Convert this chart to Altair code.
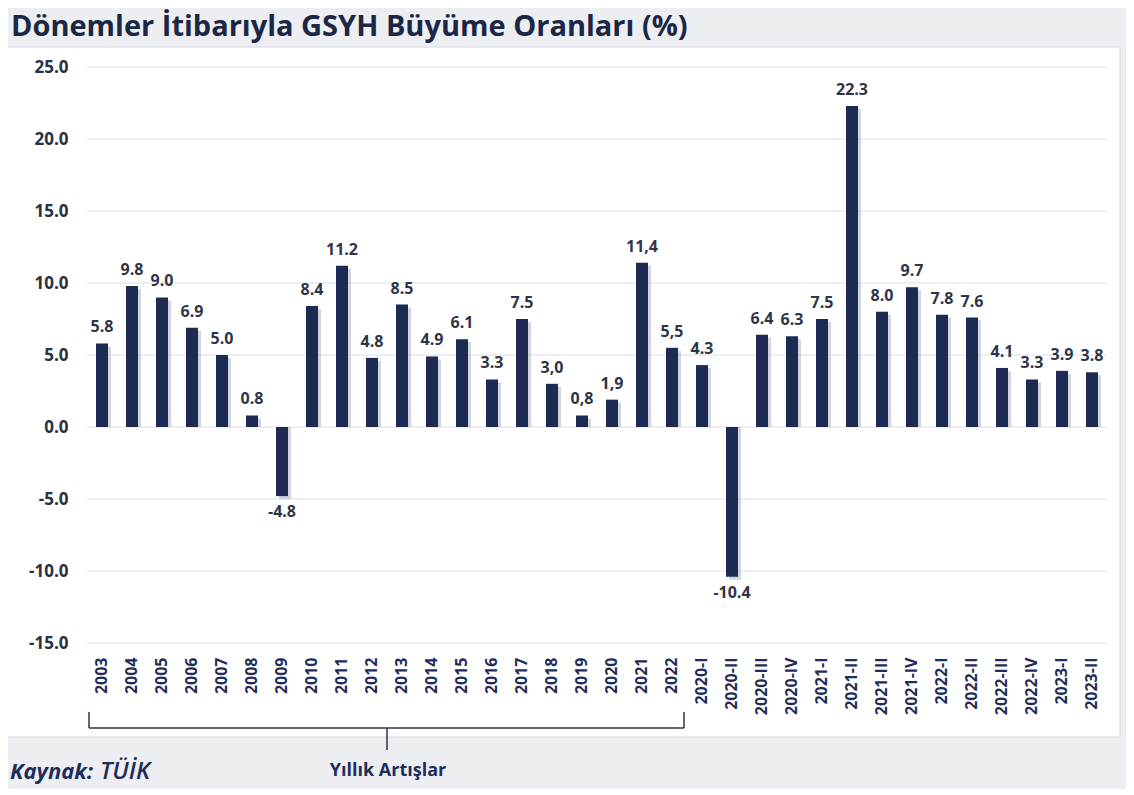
import altair as alt
import pandas as pd

categories = ["2003", "2004", "2005", "2006", "2007", "2008", "2009", "2010", "2011", "2012",
              "2013", "2014", "2015", "2016", "2017", "2018", "2019", "2020", "2021", "2022",
              "2020-I", "2020-II", "2020-III", "2020-IV", "2021-I", "2021-II", "2021-III", "2021-IV",
              "2022-I", "2022-II", "2022-III", "2022-IV", "2023-I", "2023-II"]
values = [5.8, 9.8, 9.0, 6.9, 5.0, 0.8, -4.8, 8.4, 11.2, 4.8,
          8.5, 4.9, 6.1, 3.3, 7.5, 3.0, 0.8, 1.9, 11.4, 5.5,
          4.3, -10.4, 6.4, 6.3, 7.5, 22.3, 8.0, 9.7,
          7.8, 7.6, 4.1, 3.3, 3.9, 3.8]
labels = ["5.8", "9.8", "9.0", "6.9", "5.0", "0.8", "-4.8", "8.4", "11.2", "4.8",
          "8.5", "4.9", "6.1", "3.3", "7.5", "3,0", "0,8", "1,9", "11,4", "5,5",
          "4.3", "-10.4", "6.4", "6.3", "7.5", "22.3", "8.0", "9.7",
          "7.8", "7.6", "4.1", "3.3", "3.9", "3.8"]
y_ticks = [-15, -10, -5, 0, 5, 10, 15, 20, 25]

title_text = "Dönemler İtibarıyla GSYH Büyüme Oranları (%)"
bracket_text = "Yıllık Artışlar"
source_bold = "Kaynak:"
source_text = "TÜİK"

df = pd.DataFrame({"cat": categories, "val": values, "lab": labels})
grid_df = pd.DataFrame({"t": y_ticks})
one = pd.DataFrame({"a": [0]})

FONT = "Open Sans"
NAVY = "#1d2b53"
TXT = "#2f3547"

yscale = alt.Scale(domain=[-15, 25], nice=False, zero=False)
yaxis = alt.Axis(title=None, values=y_ticks,
                 labelExpr="replace(format(datum.value, '.1f'), '\u2212', '-')",
                 labelFont=FONT, labelFontSize=17, labelFontWeight="bold",
                 labelColor="#2a3142", labelPadding=19, ticks=False, domain=False,
                 grid=False, zindex=1)
xenc = alt.X("cat:N", sort=categories,
             scale=alt.Scale(paddingInner=0.6, paddingOuter=0.3),
             axis=alt.Axis(title=None, labelAngle=-90, labelFont=FONT, labelFontSize=16,
                           labelFontWeight="bold", labelColor="#1f2d5a", labelPadding=14,
                           ticks=False, domain=False, grid=False, zindex=1))
yenc = alt.Y("val:Q", scale=yscale, axis=yaxis)

panel = alt.Chart(one).mark_rect(fill="white", stroke="#d5d8dd", strokeWidth=1).encode(
    x=alt.value(-84), x2=alt.value(1033), y=alt.value(-20), y2=alt.value(670))

grid = alt.Chart(grid_df).mark_rule(color="#dcdee2", strokeWidth=1).encode(
    y=alt.Y("t:Q", scale=yscale, axis=yaxis), x=alt.value(0), x2=alt.value(1020))

base = alt.Chart(df)
shadow = base.mark_bar(color="#7d869b", opacity=0.35).encode(
    x=xenc, y=yenc, y2=alt.datum(0), xOffset=alt.value(3), yOffset=alt.value(3))
bars = base.mark_bar(color=NAVY).encode(x=xenc, y=yenc, y2=alt.datum(0))

pos_labels = base.transform_filter("datum.val >= 0").mark_text(
    font=FONT, fontSize=16, fontWeight="bold", color=TXT, baseline="bottom", dy=-8
).encode(x=alt.X("cat:N", sort=categories), y="val:Q", text="lab:N")
neg_labels = base.transform_filter("datum.val < 0").mark_text(
    font=FONT, fontSize=16, fontWeight="bold", color=TXT, baseline="top", dy=8
).encode(x=alt.X("cat:N", sort=categories), y="val:Q", text="lab:N")

title = alt.Chart(one).mark_text(font=FONT, fontSize=29, fontWeight="bold", color="#1b2744",
                                 align="left", baseline="top").encode(
    x=alt.value(-76), y=alt.value(-54), text=alt.value(title_text))

rule_style = dict(color="#2b3550", strokeWidth=1.5)
br_h = alt.Chart(one).mark_rule(**rule_style).encode(
    x=alt.value(2), x2=alt.value(597), y=alt.value(661))
br_l = alt.Chart(one).mark_rule(**rule_style).encode(
    x=alt.value(2), y=alt.value(645), y2=alt.value(661))
br_r = alt.Chart(one).mark_rule(**rule_style).encode(
    x=alt.value(597), y=alt.value(645), y2=alt.value(661))
br_c = alt.Chart(one).mark_rule(**rule_style).encode(
    x=alt.value(300), y=alt.value(661), y2=alt.value(683))
br_text = alt.Chart(one).mark_text(font=FONT, fontSize=18, fontWeight="bold", color="#1f2d5a",
                                   align="center", baseline="alphabetic").encode(
    x=alt.value(301), y=alt.value(709), text=alt.value(bracket_text))

src1 = alt.Chart(one).mark_text(font=FONT, fontSize=22, fontWeight="bold", fontStyle="italic",
                                color="#1f2d5a", align="left", baseline="alphabetic").encode(
    x=alt.value(-77), y=alt.value(712), text=alt.value(source_bold))
src2 = alt.Chart(one).mark_text(font=FONT, fontSize=24, fontWeight=600, fontStyle="italic",
                                color="#1f2d5a", align="left", baseline="alphabetic").encode(
    x=alt.value(13), y=alt.value(712), text=alt.value(source_text))

chart = alt.layer(panel, grid, shadow, bars, pos_labels, neg_labels, title,
                  br_h, br_l, br_r, br_c, br_text, src1, src2).properties(
    width=1020, height=576,
    autosize=alt.AutoSizeParams(type="none"),
    padding={"left": 79, "top": 59, "right": 19, "bottom": 146},
    background="#eceef2",
).configure_view(stroke=None)

chart.save("out.html", embed_options={"renderer": "svg", "actions": False})
